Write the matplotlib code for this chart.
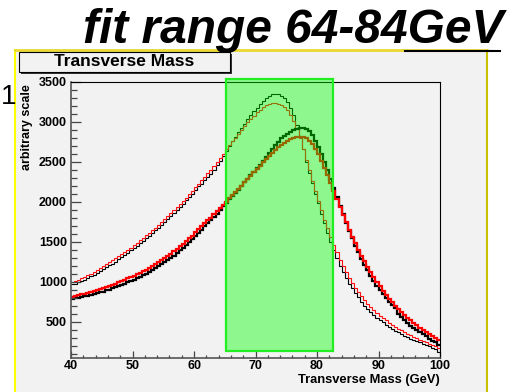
import numpy as np
import matplotlib
matplotlib.use('Agg')
import matplotlib.pyplot as plt
from matplotlib.patches import Rectangle
from matplotlib.lines import Line2D
from matplotlib.ticker import MultipleLocator

# ---------------- data ----------------
bin_lo, bin_hi, bin_width = 40.0, 100.0, 0.5

black_thin = [965, 975, 990, 1010, 1025, 1045, 1065, 1085, 1110, 1130,
              1160, 1180, 1205, 1225, 1250, 1280, 1305, 1330, 1360, 1390,
              1420, 1450, 1480, 1510, 1545, 1575, 1610, 1640, 1675, 1710,
              1745, 1780, 1820, 1855, 1895, 1935, 1975, 2015, 2060, 2100,
              2145, 2190, 2225, 2265, 2305, 2350, 2400, 2455, 2510, 2570,
              2630, 2690, 2755, 2810, 2865, 2920, 2975, 3030, 3080, 3130,
              3175, 3220, 3260, 3295, 3320, 3345, 3340, 3350, 3320, 3290,
              3240, 3170, 3080, 2960, 2820, 2660, 2500, 2360, 2230, 2100,
              1980, 1850, 1730, 1610, 1500, 1390, 1290, 1200, 1120, 1045,
              975, 915, 860, 805, 750, 700, 655, 615, 580, 550,
              520, 490, 460, 435, 410, 385, 365, 345, 325, 305,
              285, 270, 255, 240, 225, 210, 190, 175, 155, 125]

red_thin = [1000, 1010, 1025, 1045, 1060, 1080, 1100, 1120, 1145, 1165,
            1195, 1215, 1240, 1265, 1290, 1315, 1340, 1370, 1400, 1425,
            1455, 1485, 1515, 1545, 1580, 1610, 1645, 1675, 1710, 1745,
            1780, 1815, 1855, 1890, 1930, 1970, 2010, 2050, 2090, 2135,
            2180, 2220, 2265, 2310, 2355, 2400, 2450, 2500, 2550, 2600,
            2655, 2705, 2755, 2800, 2850, 2895, 2945, 2990, 3035, 3075,
            3115, 3150, 3180, 3205, 3220, 3230, 3235, 3225, 3210, 3185,
            3140, 3085, 3010, 2920, 2800, 2660, 2520, 2390, 2260, 2130,
            2010, 1890, 1775, 1665, 1560, 1460, 1365, 1275, 1195, 1120,
            1050, 985, 925, 870, 820, 770, 725, 685, 645, 610,
            575, 545, 515, 485, 460, 435, 410, 390, 365, 345,
            330, 310, 290, 275, 255, 240, 225, 210, 195, 170]

black_thick = [780, 790, 800, 808, 815, 825, 835, 845, 855, 865,
               875, 890, 900, 915, 930, 945, 960, 975, 990, 1005,
               1020, 1040, 1060, 1080, 1100, 1120, 1140, 1165, 1190, 1215,
               1240, 1265, 1295, 1320, 1360, 1390, 1425, 1460, 1495, 1530,
               1570, 1610, 1650, 1690, 1730, 1770, 1810, 1850, 1895, 1940,
               1985, 2030, 2070, 2110, 2150, 2195, 2240, 2285, 2330, 2370,
               2415, 2460, 2510, 2560, 2610, 2660, 2705, 2750, 2790, 2820,
               2845, 2870, 2890, 2905, 2915, 2920, 2910, 2880, 2830, 2760,
               2680, 2590, 2490, 2390, 2280, 2170, 2060, 1950, 1840, 1735,
               1635, 1540, 1450, 1365, 1285, 1210, 1140, 1075, 1010, 950,
               895, 845, 795, 750, 705, 665, 590, 555, 520, 485,
               450, 420, 390, 365, 340, 315, 280, 260, 240, 210]

red_thick = [810, 820, 830, 840, 850, 860, 870, 885, 895, 905,
             915, 930, 945, 960, 975, 990, 1005, 1025, 1040, 1060,
             1075, 1095, 1110, 1130, 1150, 1175, 1195, 1220, 1245, 1270,
             1295, 1325, 1350, 1380, 1410, 1440, 1470, 1505, 1540, 1575,
             1615, 1655, 1690, 1730, 1765, 1800, 1840, 1880, 1920, 1960,
             2000, 2040, 2080, 2120, 2160, 2200, 2245, 2285, 2325, 2365,
             2405, 2445, 2490, 2530, 2570, 2610, 2645, 2680, 2710, 2735,
             2760, 2780, 2795, 2805, 2810, 2805, 2790, 2760, 2720, 2660,
             2590, 2510, 2420, 2330, 2230, 2130, 2030, 1930, 1830, 1740,
             1650, 1560, 1480, 1400, 1325, 1255, 1185, 1120, 1055, 995,
             940, 885, 835, 785, 740, 700, 660, 620, 585, 550,
             515, 485, 455, 425, 400, 375, 350, 325, 300, 270]

fit_box_x = (65.2, 82.55)
fit_box_y = (137, 3534)

x_ticks = [40, 50, 60, 70, 80, 90, 100]
y_ticks = [500, 1000, 1500, 2000, 2500, 3000, 3500]

title = 'fit range 64-84GeV'
hist_title = 'Transverse Mass'
x_label = 'Transverse Mass (GeV)'
y_label = 'arbitrary scale'

# ---------------- figure ----------------
plt.rcParams['font.family'] = ['Liberation Sans', 'DejaVu Sans']
plt.rcParams['font.weight'] = 'bold'

W, H = 521, 392
def fx(px):
    return px / W
def fy(py):
    return 1 - py / H

fig = plt.figure(figsize=(W / 100, H / 100), dpi=100, facecolor='white')

# pad background
fig.patches.append(Rectangle((fx(15), 0), fx(487) - fx(15), fy(50),
                             transform=fig.transFigure, facecolor='#f2f2f2',
                             edgecolor='none', zorder=-2))
fig.lines.append(Line2D([fx(15), fx(15)], [0, fy(50)], transform=fig.transFigure,
                        color='#ffff00', lw=1.5, zorder=-1))
fig.lines.append(Line2D([fx(487), fx(487)], [0, fy(50)], transform=fig.transFigure,
                        color='#c8c000', lw=1.5, zorder=-1))
fig.lines.append(Line2D([fx(15), fx(487)], [fy(50), fy(50)], transform=fig.transFigure,
                        color='#e8d830', lw=2, zorder=-1))
fig.lines.append(Line2D([fx(405), fx(500)], [fy(50.5), fy(50.5)], transform=fig.transFigure,
                        color='black', lw=1.5, zorder=3))

# title
fig.text(fx(83), fy(43), title, fontsize=34.5, fontweight='bold', style='italic',
         ha='left', va='baseline', color='black')
fig.text(fx(0.5), fy(97), '1', fontsize=20, fontweight='normal', ha='left', va='center')

# histogram title box
fig.patches.append(Rectangle((fx(21), fy(73.5)), fx(232) - fx(21), fy(54) - fy(73.5),
                             transform=fig.transFigure, facecolor='#333333',
                             edgecolor='none', zorder=2))
fig.patches.append(Rectangle((fx(19), fy(71.5)), fx(230) - fx(19), fy(52) - fy(71.5),
                             transform=fig.transFigure, facecolor='#f2f2f2',
                             edgecolor='black', lw=0.8, zorder=3))
fig.text(fx(124.5), fy(61.5), hist_title, fontsize=12.5, fontweight='bold',
         ha='center', va='center', zorder=4)

# axes
ax = fig.add_axes([fx(71), fy(357.5), fx(440) - fx(71), fy(81.7) - fy(357.5)])
ax.set_facecolor('#f2f2f2')

edges = np.arange(bin_lo, bin_hi + bin_width / 2, bin_width)
ax.stairs(black_thin, edges, baseline=None, color='black', lw=0.8)
ax.stairs(red_thin, edges, baseline=None, color='#ff1010', lw=0.8)
ax.stairs(black_thick, edges, baseline=None, color='black', lw=1.6)
ax.stairs(red_thick, edges, baseline=None, color='#ff0000', lw=1.6)

ax.add_patch(Rectangle((fit_box_x[0], fit_box_y[0]), fit_box_x[1] - fit_box_x[0],
                       fit_box_y[1] - fit_box_y[0], facecolor=(0, 1, 0, 0.41),
                       edgecolor='#22ee22', lw=1.6, clip_on=False, zorder=5))

ax.set_xlim(bin_lo, bin_hi)
ax.set_ylim(50, 3500)
ax.set_xticks(x_ticks)
ax.set_yticks(y_ticks)
ax.xaxis.set_minor_locator(MultipleLocator(2))
ax.yaxis.set_minor_locator(MultipleLocator(100))
ax.tick_params(axis='both', which='both', direction='in', top=False, right=False,
               labelsize=9, colors='#444444', labelcolor='black')
ax.tick_params(axis='x', which='major', length=5, width=0.9, pad=1.5)
ax.tick_params(axis='x', which='minor', length=2.5, width=0.9)
ax.tick_params(axis='y', which='major', length=7.5, width=0.9, pad=3)
ax.tick_params(axis='y', which='minor', length=4, width=0.9)
for lbl in ax.get_xticklabels() + ax.get_yticklabels():
    lbl.set_fontweight('bold')

for s in ['left', 'bottom']:
    ax.spines[s].set_color('#555555')
    ax.spines[s].set_linewidth(1.2)
for s in ['top', 'right']:
    ax.spines[s].set_color('black')
    ax.spines[s].set_linewidth(0.8)

fig.text(fx(440), fy(380), x_label, fontsize=9.3, fontweight='bold', ha='right', va='center')
fig.text(fx(27), fy(127), y_label, fontsize=9, fontweight='bold', rotation=90,
         ha='center', va='center')

fig.savefig('out.png', dpi=100, facecolor='white')
